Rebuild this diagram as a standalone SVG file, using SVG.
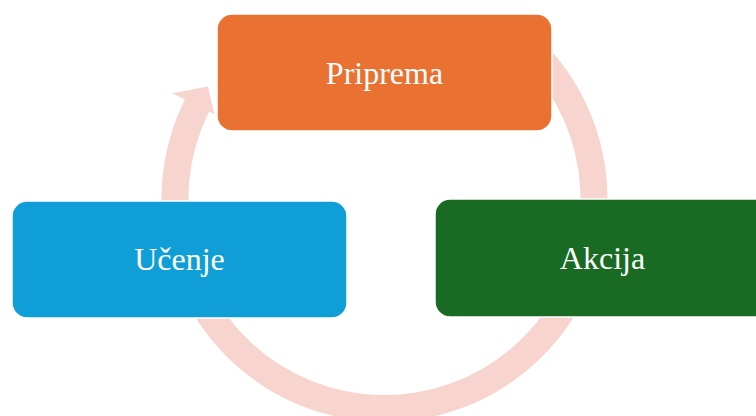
<svg xmlns="http://www.w3.org/2000/svg" width="756" height="416" viewBox="0 0 756 416">
<style>
.box{stroke:#ffffff;stroke-width:1.5}
.lbl{font-family:"Liberation Serif","Times New Roman",serif;font-size:32px;fill:#ffffff;text-anchor:middle}
</style>
<rect width="756" height="416" fill="#ffffff"/>
<g id="connectors">
<path d="M542.2 41.3 A223 223 0 1 1 184.9 99.5 L172.4 93.3 L207.8 86.4 L214.5 114.2 L209.1 111.5 A196 196 0 1 0 523.1 60.4 Z" fill="#F7D5CE"/>
</g>
<g id="priprema">
<rect class="box" x="217" y="14" width="335" height="117" rx="15" fill="#E97132"/>
<text class="lbl" x="384.5" y="84">Priprema</text>
</g>
<g id="akcija">
<rect class="box" x="435" y="199" width="335" height="118" rx="15" fill="#196B24"/>
<text class="lbl" x="602.5" y="269">Akcija</text>
</g>
<g id="ucenje">
<rect class="box" x="12" y="201" width="335" height="117" rx="15" fill="#0F9ED5"/>
<text class="lbl" x="179.5" y="270">Učenje</text>
</g>
</svg>
